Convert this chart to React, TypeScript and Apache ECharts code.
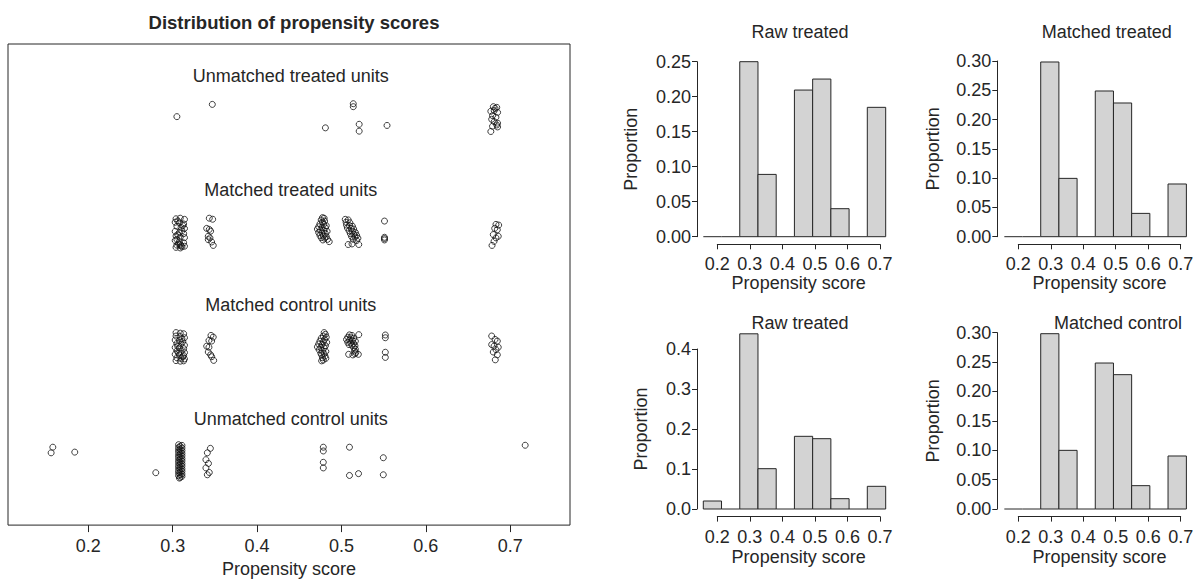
import React, { useEffect, useRef } from "react";
import * as echarts from "echarts";

const FONT = '"Liberation Sans", Arial, Helvetica, sans-serif';
const INK = "#262626";

// ---------- data ----------
const rowLabels = [
  "Unmatched treated units",
  "Matched treated units",
  "Matched control units",
  "Unmatched control units",
];
const xTickValues = [0.2, 0.3, 0.4, 0.5, 0.6, 0.7];

const unmatchedTreated = [
  [0.305, 3.013], [0.347, 3.12], [0.481, 2.915], [0.514, 3.126], [0.514, 3.1],
  [0.521, 2.946], [0.521, 2.886], [0.554, 2.936],
  [0.68, 3.1], [0.684, 3.094], [0.682, 3.085], [0.677, 3.06], [0.681, 3.066],
  [0.685, 3.05], [0.679, 3.022], [0.683, 3.008], [0.678, 2.99], [0.681, 2.969],
  [0.685, 2.956], [0.684, 2.94], [0.679, 2.929], [0.685, 2.923], [0.677, 2.883],
];

const matchedTreated = [
  [0.304, 2.12], [0.309, 2.125], [0.314, 2.115], [0.303, 2.09], [0.308, 2.085],
  [0.313, 2.075], [0.305, 2.055], [0.31, 2.045], [0.314, 2.035], [0.303, 2.01],
  [0.308, 2.0], [0.313, 1.99], [0.304, 1.97], [0.309, 1.96], [0.314, 1.955],
  [0.303, 1.93], [0.308, 1.92], [0.313, 1.91], [0.305, 1.89], [0.31, 1.885],
  [0.314, 1.88], [0.304, 1.87], [0.309, 1.865], [0.311, 1.875], [0.306, 1.98],
  [0.312, 2.06], [0.307, 1.9], [0.306, 2.1], [0.311, 2.015], [0.305, 1.94],
  [0.309, 1.895],
  [0.3434, 2.125], [0.3474, 2.116], [0.3403, 2.036], [0.3434, 2.027], [0.345, 2.012],
  [0.3422, 1.967], [0.3442, 1.953], [0.3422, 1.938], [0.3462, 1.917], [0.3481, 1.887],
  [0.4775, 2.13], [0.4795, 2.125], [0.476, 2.11], [0.48, 2.1], [0.4775, 2.09],
  [0.4745, 2.075], [0.479, 2.07], [0.482, 2.06], [0.473, 2.05], [0.477, 2.045],
  [0.481, 2.04], [0.4715, 2.03], [0.475, 2.02], [0.479, 2.015], [0.483, 2.01],
  [0.473, 2.0], [0.477, 1.995], [0.481, 1.99], [0.4745, 1.975], [0.4785, 1.97],
  [0.482, 1.965], [0.476, 1.955], [0.48, 1.95], [0.4835, 1.94], [0.478, 1.935],
  [0.4855, 1.92],
  [0.5045, 2.115], [0.508, 2.11], [0.5055, 2.09], [0.51, 2.085], [0.506, 2.065],
  [0.5095, 2.06], [0.513, 2.055], [0.507, 2.04], [0.5115, 2.035], [0.5145, 2.03],
  [0.509, 2.015], [0.513, 2.01], [0.5165, 2.0], [0.5105, 1.99], [0.5145, 1.985],
  [0.518, 1.975], [0.512, 1.965], [0.516, 1.96], [0.5195, 1.95], [0.514, 1.94],
  [0.518, 1.93], [0.508, 1.895], [0.5125, 1.9], [0.5205, 1.895],
  [0.551, 2.1], [0.551, 1.958], [0.551, 1.947], [0.551, 1.935],
  [0.6831, 2.071], [0.6863, 2.065], [0.6816, 2.036], [0.6847, 2.024], [0.6799, 1.982],
  [0.6858, 1.967], [0.6831, 1.953], [0.6808, 1.923], [0.6784, 1.887],
];

const matchedControl = [
  [0.304, 1.125], [0.309, 1.12], [0.313, 1.115], [0.304, 1.095], [0.309, 1.09],
  [0.314, 1.08], [0.303, 1.06], [0.308, 1.055], [0.312, 1.045], [0.305, 1.03],
  [0.31, 1.025], [0.314, 1.015], [0.303, 0.995], [0.308, 0.99], [0.313, 0.985],
  [0.305, 0.965], [0.31, 0.96], [0.314, 0.95], [0.303, 0.935], [0.308, 0.93],
  [0.313, 0.925], [0.305, 0.905], [0.31, 0.9], [0.314, 0.895], [0.304, 0.88],
  [0.309, 0.875], [0.313, 0.878], [0.306, 1.005], [0.311, 1.07], [0.307, 0.945],
  [0.312, 0.915],
  [0.3454, 1.1], [0.3481, 1.086], [0.343, 1.056], [0.3462, 1.051], [0.3403, 1.006],
  [0.343, 0.997], [0.3422, 0.955], [0.345, 0.931], [0.3462, 0.914], [0.3486, 0.882],
  [0.4795, 1.125], [0.481, 1.11], [0.4785, 1.095], [0.482, 1.085], [0.476, 1.075],
  [0.48, 1.065], [0.4745, 1.05], [0.4785, 1.045], [0.4825, 1.04], [0.473, 1.025],
  [0.477, 1.02], [0.481, 1.01], [0.4715, 1.0], [0.4755, 0.995], [0.4795, 0.99],
  [0.4735, 0.975], [0.4775, 0.965], [0.4815, 0.96], [0.4755, 0.945], [0.4795, 0.94],
  [0.4765, 0.93], [0.4805, 0.92], [0.4775, 0.905], [0.4815, 0.9], [0.4785, 0.885],
  [0.4765, 0.878],
  [0.5095, 1.105], [0.5125, 1.1], [0.5205, 1.107], [0.5075, 1.085], [0.511, 1.08],
  [0.5145, 1.075], [0.506, 1.065], [0.5095, 1.06], [0.513, 1.055], [0.5165, 1.05],
  [0.5075, 1.04], [0.511, 1.035], [0.5145, 1.03], [0.509, 1.02], [0.5125, 1.015],
  [0.516, 1.01], [0.5145, 0.995], [0.5165, 0.98], [0.5155, 0.965], [0.517, 0.95],
  [0.516, 0.94], [0.5085, 0.935], [0.5135, 0.93], [0.52, 0.935],
  [0.552, 1.104], [0.552, 1.08], [0.552, 0.953], [0.552, 0.908],
  [0.678, 1.095], [0.682, 1.065], [0.6847, 1.051], [0.678, 1.02], [0.6808, 1.006],
  [0.6858, 0.997], [0.6831, 0.976], [0.6799, 0.955], [0.6847, 0.931], [0.6823, 0.887],
];

const unmatchedControl = [
  [0.158, 0.123], [0.156, 0.074], [0.184, 0.08], [0.28, -0.1],
  [0.307, 0.145], [0.311, 0.139], [0.309, 0.131], [0.307, 0.121], [0.311, 0.116],
  [0.309, 0.106], [0.307, 0.099], [0.311, 0.093], [0.309, 0.084], [0.307, 0.078],
  [0.311, 0.069], [0.309, 0.063], [0.307, 0.054], [0.311, 0.048], [0.309, 0.039],
  [0.307, 0.033], [0.311, 0.024], [0.309, 0.018], [0.307, 0.009], [0.311, 0.003],
  [0.309, -0.006], [0.307, -0.012], [0.311, -0.021], [0.309, -0.027], [0.307, -0.036],
  [0.311, -0.042], [0.309, -0.051], [0.307, -0.057], [0.311, -0.066], [0.309, -0.072],
  [0.307, -0.081], [0.311, -0.087], [0.309, -0.096], [0.307, -0.102], [0.311, -0.111],
  [0.309, -0.117], [0.307, -0.126], [0.311, -0.132], [0.309, -0.14], [0.308, -0.147],
  [0.3447, 0.113], [0.3411, 0.074], [0.3394, 0.014], [0.3424, -0.019], [0.3394, -0.058],
  [0.3434, -0.098], [0.3411, -0.118],
  [0.4785, 0.123], [0.4785, 0.09], [0.4785, -0.009], [0.4785, -0.058],
  [0.5095, 0.123], [0.5095, -0.124], [0.5202, -0.108],
  [0.5496, 0.031], [0.5496, -0.118],
  [0.7177, 0.14],
];

const binEdges = [0.157, 0.213, 0.269, 0.325, 0.381, 0.437, 0.493, 0.549, 0.605, 0.661, 0.7175];
const rawTreatedProp = [0, 0, 0.25, 0.089, 0, 0.2095, 0.2252, 0.04, 0, 0.1848];
const matchedTreatedProp = [0, 0, 0.2983, 0.0996, 0, 0.2488, 0.2283, 0.0398, 0, 0.09];
const rawControlProp = [0.02, 0, 0.438, 0.1008, 0, 0.1817, 0.1758, 0.0258, 0, 0.0567];
const matchedControlProp = [0, 0, 0.2983, 0.0998, 0, 0.2484, 0.2286, 0.0397, 0, 0.0902];

const histTitles = ["Raw treated", "Matched treated", "Raw treated", "Matched control"];
const histProps = [rawTreatedProp, matchedTreatedProp, rawControlProp, matchedControlProp];
const histYMax = [0.25, 0.3, 0.4, 0.3];
const histYInterval = [0.05, 0.05, 0.1, 0.05];
const histYDigits = [2, 2, 1, 2];

// ---------- layout (pixels) ----------
const histLayout = [
  { left: 717.3, top: 61.7, width: 162.7, height: 175, yOff: 20.3, nameGapY: 57, nameGapX: 30, tx: 800, ty: 32 },
  { left: 1018.3, top: 61, width: 162.4, height: 175.7, yOff: 21, nameGapY: 55, nameGapX: 30, tx: 1106.7, ty: 32 },
  { left: 717.3, top: 349, width: 162.7, height: 160, yOff: 20.3, nameGapY: 47, nameGapX: 31, tx: 800, ty: 323.3 },
  { left: 1018.3, top: 332.7, width: 162.4, height: 176.3, yOff: 21, nameGapY: 55, nameGapX: 31, tx: 1118, ty: 323.3 },
];

const textStyle = { fontFamily: FONT, fontSize: 18, color: INK };

function buildOption() {
  const grids: any[] = [
    { left: 8, top: 44, width: 562, height: 490, show: true, borderColor: INK, borderWidth: 1, backgroundColor: "transparent" },
  ];
  const xAxes: any[] = [
    {
      gridIndex: 0, type: "value", min: 0.1049, max: 0.7708, position: "bottom",
      axisLine: { show: false, onZero: false },
      axisTick: { show: true, length: 7, customValues: xTickValues, lineStyle: { color: INK } },
      axisLabel: { ...textStyle, margin: 12, customValues: xTickValues, formatter: (v: number) => v.toFixed(1) },
      splitLine: { show: false },
      name: "Propensity score", nameLocation: "middle", nameGap: 32,
      nameTextStyle: textStyle,
    },
  ];
  const yAxes: any[] = [
    { gridIndex: 0, type: "value", min: -0.558, max: 3.648, show: false, splitLine: { show: false } },
  ];
  const series: any[] = [];
  const pointStyle = { color: "rgba(0,0,0,0)", borderColor: "#111", borderWidth: 1 };
  [unmatchedTreated, matchedTreated, matchedControl, unmatchedControl].forEach((pts, i) => {
    series.push({
      type: "scatter", name: rowLabels[i], xAxisIndex: 0, yAxisIndex: 0,
      data: pts, symbol: "circle", symbolSize: 6, itemStyle: pointStyle, silent: true,
    });
  });

  histLayout.forEach((L, k) => {
    const gi = k + 1;
    grids.push({ left: L.left, top: L.top, width: L.width, height: L.height });
    xAxes.push({
      gridIndex: gi, type: "value", min: 0.2, max: 0.7, interval: 0.1, offset: 7.6,
      axisLine: { show: true, onZero: false, lineStyle: { color: INK, width: 1 } },
      axisTick: { show: true, length: 5, lineStyle: { color: INK } },
      axisLabel: { ...textStyle, margin: 11, showMinLabel: true, showMaxLabel: true, formatter: (v: number) => v.toFixed(1) },
      splitLine: { show: false },
      name: "Propensity score", nameLocation: "middle", nameGap: L.nameGapX, nameTextStyle: textStyle,
    });
    yAxes.push({
      gridIndex: gi, type: "value", min: 0, max: histYMax[k], interval: histYInterval[k], offset: L.yOff,
      axisLine: { show: true, onZero: false, lineStyle: { color: INK, width: 1 } },
      axisTick: { show: true, length: 5, lineStyle: { color: INK } },
      axisLabel: { ...textStyle, margin: 6, formatter: (v: number) => v.toFixed(histYDigits[k]) },
      splitLine: { show: false },
      name: "Proportion", nameLocation: "middle", nameRotate: 90, nameGap: L.nameGapY, nameTextStyle: textStyle,
    });
    const data = histProps[k].map((p, b) => [binEdges[b], binEdges[b + 1], p]);
    series.push({
      type: "custom", xAxisIndex: gi, yAxisIndex: gi, clip: false, silent: true,
      encode: { x: [0, 1], y: 2 },
      data,
      renderItem: (params: any, api: any) => {
        const x0 = api.value(0), x1 = api.value(1), h = api.value(2);
        const p0 = api.coord([x0, 0]);
        const p1 = api.coord([x1, h]);
        if (h === 0) {
          return { type: "line", shape: { x1: p0[0], y1: p0[1], x2: p1[0], y2: p0[1] }, style: { stroke: INK, lineWidth: 1 } };
        }
        return {
          type: "rect",
          shape: { x: p0[0], y: p1[1], width: p1[0] - p0[0], height: p0[1] - p1[1] },
          style: { fill: "#d3d3d3", stroke: INK, lineWidth: 1 },
        };
      },
    });
  });

  return {
    animation: false,
    backgroundColor: "#ffffff",
    grid: grids,
    xAxis: xAxes,
    yAxis: yAxes,
    series,
  };
}

export default function App() {
  const ref = useRef<HTMLDivElement>(null);
  useEffect(() => {
    if (!ref.current) return;
    const chart = echarts.init(ref.current, null, { renderer: "svg" });
    chart.setOption(buildOption());
    const graphics: any[] = [];
    graphics.push({
      type: "text", x: 294, y: 22,
      style: { text: "Distribution of propensity scores", fontFamily: FONT, fontSize: 18.5, fontWeight: "bold", fill: INK, align: "center", verticalAlign: "middle" },
    });
    histLayout.forEach((L, k) => {
      graphics.push({
        type: "text", x: L.tx, y: L.ty,
        style: { text: histTitles[k], fontFamily: FONT, fontSize: 18, fill: INK, align: "center", verticalAlign: "middle" },
      });
    });
    rowLabels.forEach((t, i) => {
      const pt = chart.convertToPixel({ xAxisIndex: 0, yAxisIndex: 0 } as any, [0.44, 3 - i + 0.37]) as number[];
      graphics.push({
        type: "text", x: pt[0], y: pt[1],
        style: { text: t, fontFamily: FONT, fontSize: 18, fill: INK, align: "center", verticalAlign: "middle" },
      });
    });
    chart.setOption({ graphic: graphics });
    return () => chart.dispose();
  }, []);
  return (
    <div
      ref={ref}
      style={{ position: "fixed", left: 0, top: 0, width: 1197, height: 583, background: "#fff" }}
    />
  );
}
